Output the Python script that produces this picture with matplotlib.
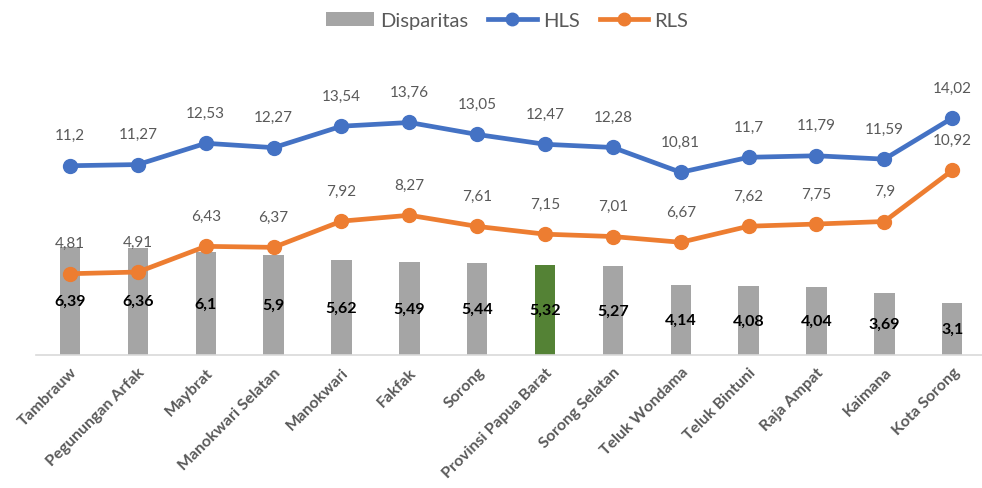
import matplotlib
matplotlib.use("Agg")
import matplotlib.pyplot as plt
from matplotlib.lines import Line2D
from matplotlib.patches import Patch

plt.rcParams['font.family'] = ['Lato', 'DejaVu Sans']

regions = ["Tambrauw", "Pegunungan Arfak", "Maybrat", "Manokwari Selatan", "Manokwari",
           "Fakfak", "Sorong", "Provinsi Papua Barat", "Sorong Selatan", "Teluk Wondama",
           "Teluk Bintuni", "Raja Ampat", "Kaimana", "Kota Sorong"]
hls = [11.2, 11.27, 12.53, 12.27, 13.54, 13.76, 13.05, 12.47, 12.28, 10.81, 11.7, 11.79, 11.59, 14.02]
rls = [4.81, 4.91, 6.43, 6.37, 7.92, 8.27, 7.61, 7.15, 7.01, 6.67, 7.62, 7.75, 7.9, 10.92]
disparitas = [6.39, 6.36, 6.1, 5.9, 5.62, 5.49, 5.44, 5.32, 5.27, 4.14, 4.08, 4.04, 3.69, 3.1]
highlight = "Provinsi Papua Barat"

BLUE = "#4472C4"
ORANGE = "#ED7D31"
GRAY = "#A5A5A5"
GREEN = "#548235"
TXT = "#595959"

def fmt(v):
    return f"{v:g}".replace(".", ",")

fig = plt.figure(figsize=(9.82, 4.89), dpi=100)
ax = fig.add_axes([0.0368, 0.272, 0.9674, 0.622])

x = list(range(len(regions)))
colors = [GREEN if r == highlight else GRAY for r in regions]
ax.bar(x, disparitas, width=0.3, color=colors, zorder=1)
ax.plot(x, hls, color=BLUE, lw=3.4, marker="o", ms=10, zorder=3, solid_capstyle="round")
ax.plot(x, rls, color=ORANGE, lw=3.4, marker="o", ms=10, zorder=3, solid_capstyle="round")

for xi, v in zip(x, disparitas):
    ax.text(xi, v / 2, fmt(v), ha="center", va="center", fontsize=11.5,
            fontweight="bold", color="black", zorder=4)
for xi, v in zip(x, hls):
    ax.annotate(fmt(v), (xi, v), xytext=(0, 22), textcoords="offset points",
                ha="center", va="center", fontsize=11, color=TXT, zorder=4)
for xi, v in zip(x, rls):
    ax.annotate(fmt(v), (xi, v), xytext=(0, 22), textcoords="offset points",
                ha="center", va="center", fontsize=11, color=TXT, zorder=4)

ax.set_xlim(-0.5, len(regions) - 0.5)
ax.set_ylim(0, 18)
ax.set_yticks([])
for s in ["top", "right", "left"]:
    ax.spines[s].set_visible(False)
ax.spines["bottom"].set_color("#D9D9D9")
ax.spines["bottom"].set_linewidth(1.2)
ax.set_xticks(x)
ax.set_xticklabels(regions, rotation=45, ha="right", rotation_mode="anchor",
                   fontsize=11.5, fontweight="bold", color=TXT)
ax.tick_params(axis="x", length=0, pad=7)

handles = [Patch(facecolor=GRAY, edgecolor="none"),
           Line2D([], [], color=BLUE, lw=3.4, marker="o", ms=9),
           Line2D([], [], color=ORANGE, lw=3.4, marker="o", ms=9)]
fig.legend(handles, ["Disparitas", "HLS", "RLS"], loc="upper center",
           bbox_to_anchor=(0.516, 1.01), ncol=3, frameon=False, fontsize=14.5,
           labelcolor=TXT, handlelength=2.4, handletextpad=0.3, columnspacing=1.0)

fig.savefig("out.png", dpi=100)
